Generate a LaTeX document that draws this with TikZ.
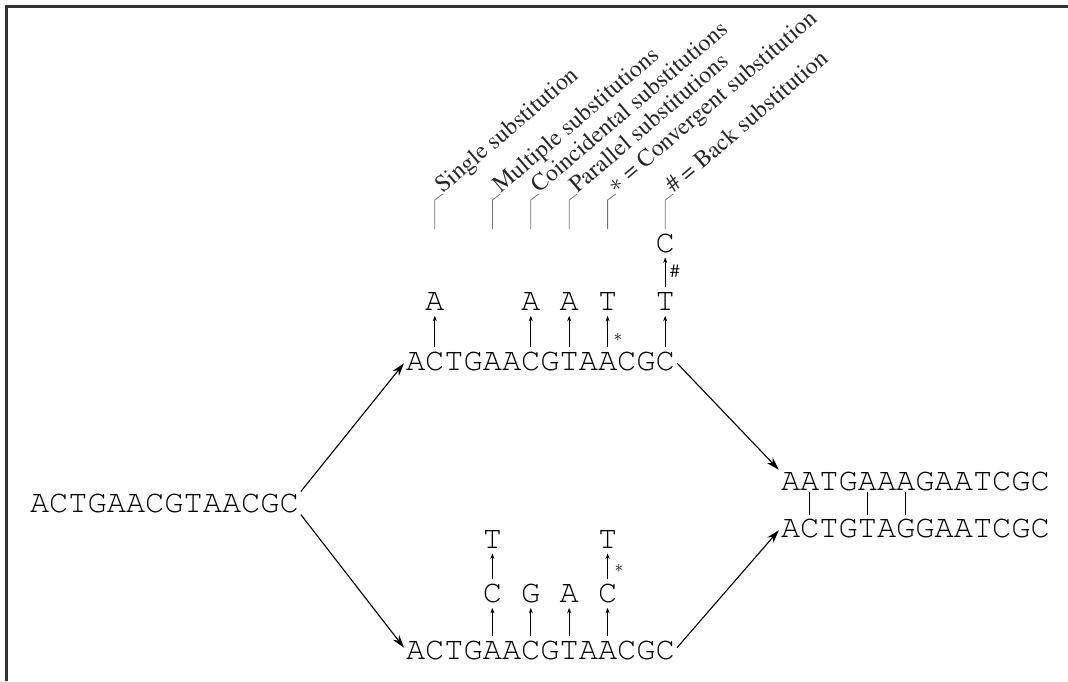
\documentclass[tikz,border=0pt]{standalone}
\usepackage[T1]{fontenc}
\usepackage{times}
\usepackage{tikz}
\usetikzlibrary{arrows.meta,positioning}

\newcommand\seqfont{\ttfamily\fontsize{32}{36}\selectfont}
\newcommand\lblfont{\rmfamily\fontsize{24}{27}\selectfont}

\begin{document}
\begin{tikzpicture}[x=1pt,y=-1pt,
  seq/.style={font=\seqfont, inner sep=0pt, minimum width=19.2pt, text height=18pt, text depth=0pt},
  sub/.style={-{Stealth[length=5.5pt,width=4pt]}, line width=0.9pt, shorten <=5pt, shorten >=5pt},
  big/.style={-{Stealth[length=13pt,width=8pt]}, line width=1.1pt, shorten <=3pt, shorten >=3pt},
  tick/.style={black!55, line width=0.8pt},
  lbl/.style={font=\lblfont, rotate=40.5, anchor=base west, inner sep=0pt, text=black!85},
  subsign/.style={font=\fontsize{19}{21}\selectfont, inner sep=0pt}]
\useasboundingbox (0,0) rectangle (1068,681);
\draw[line width=3pt, black!80] (6.5,681) -- (6.5,6.5) -- (1068,6.5);

% sequences, one node per base
\foreach \c [count=\i from 0] in {A,C,T,G,A,A,C,G,T,A,A,C,G,C} {
  \node[seq] (lf\i) at (39.6+19.2*\i,503) {\c};
  \node[seq] (up\i) at (415.6+19.2*\i,361) {\c};
  \node[seq] (dn\i) at (415.6+19.2*\i,650) {\c};
}
\foreach \c [count=\i from 0] in {A,A,T,G,A,A,A,G,A,A,T,C,G,C} \node[seq] (ra\i) at (790.6+19.2*\i,481) {\c};
\foreach \c [count=\i from 0] in {A,C,T,G,T,A,G,G,A,A,T,C,G,C} \node[seq] (rb\i) at (790.6+19.2*\i,528) {\c};

% upper lineage
\foreach \i/\c in {1/A,6/A,8/A,10/T,13/T} {
  \node[seq, above=41pt of up\i] (upm\i) {\c};
  \draw[sub] (up\i) -- (upm\i);
}
\node[seq, above=40pt of upm13] (upb) {C};
\draw[sub] (upm13) -- (upb);
\node[subsign, anchor=west] (hash) at (670,271) {\#};
\node[subsign] (st1) at (618,337) {$\ast$};

% lower lineage
\foreach \i/\c in {4/C,6/G,8/A,10/C} {
  \node[seq, above=38pt of dn\i] (dnm\i) {\c};
  \draw[sub] (dn\i) -- (dnm\i);
}
\foreach \i in {4,10} {
  \node[seq, above=36pt of dnm\i] (dnt\i) {T};
  \draw[sub] (dnm\i) -- (dnt\i);
}
\node[subsign] (st2) at (619,568) {$\ast$};

% branches
\draw[big] (lf13.north east) -- (up0.west);
\draw[big] (lf13.south east) -- (dn0.west);
\draw[big] (up13.east) -- (ra0.north west);
\draw[big] (dn13.east) -- (rb0.west);
\foreach \i in {1,4,6} \draw[line width=0.8pt, shorten <=2pt, shorten >=4pt] (ra\i) -- (rb\i);

% labels
\foreach \i/\txt in {1/Single substitution, 4/Multiple substitutions, 6/Coincidental substitutions,
    8/Parallel substitutions, 10/{$\ast$ = Convergent substitution}, 13/{\# = Back substitution}} {
  \coordinate (tk\i) at (up\i |- 0,229);
  \node[lbl] (lb\i) at ([shift={(8,-35)}]tk\i) {\txt};
  \draw[tick] (tk\i) -- ++(0,-29) -- (lb\i.base west);
}
\end{tikzpicture}
\end{document}
